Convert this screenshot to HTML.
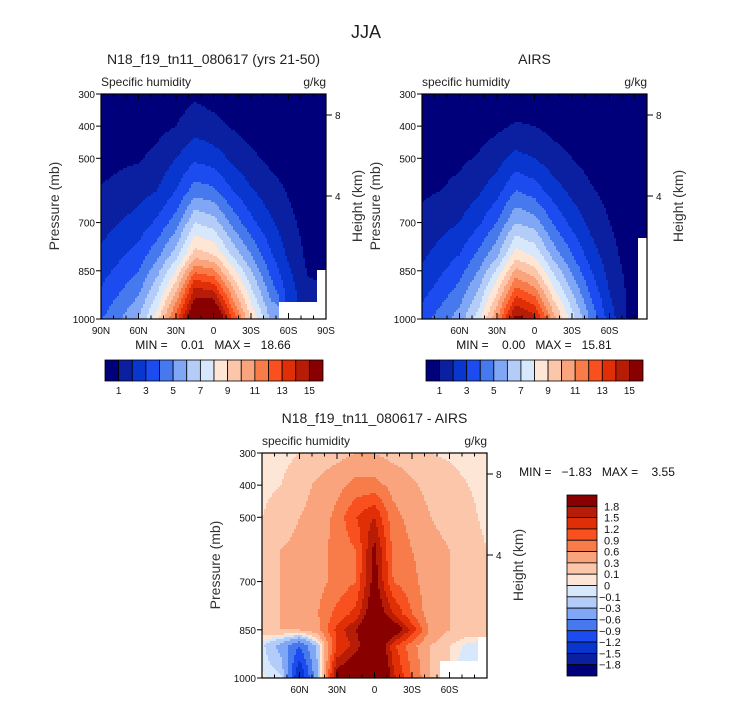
<!DOCTYPE html>
<html><head><meta charset="utf-8">
<style>
body{margin:0;background:#fff;}
svg{display:block;font-family:"Liberation Sans",sans-serif;}
text{white-space:pre;}
</style></head>
<body>
<svg id="fig" width="733" height="702" viewBox="0 0 733 702" xmlns="http://www.w3.org/2000/svg">
<text x="366" y="38" font-size="18" text-anchor="middle" fill="#222">JJA</text>
<g id="p1"></g>
<g id="p2"></g>
<g id="p3"></g>
</svg>
<script>
// Latitude columns (deg, + = N)
const lats = [90,75,60,45,30,15,0,-15,-30,-45,-60,-75,-90];
const levelsQ = [1000,900,800,700,600,500,400,300];
const levelsD = [1000,900,850,800,700,600,500,400,300];
const N = NaN;
const modelQ = [
 [3.9,4.9,6,8.6,12.5,17,17.5,13,9,6,N,N,N],
 [3,3.8,4.6,6.6,9.5,14,13.5,10,7,4.5,2.5,1.1,N],
 [2.2,2.8,3.4,4.7,6.5,9.5,9,6.8,5,3.2,1.8,0.8,0.4],
 [1.6,2,2.4,3.2,4.5,7,6.5,4.7,3.3,2.2,1.3,0.6,0.3],
 [1.05,1.3,1.6,2,3,4.5,4.2,3,2.1,1.4,0.9,0.4,0.2],
 [0.7,0.8,0.9,1.3,2,2.8,2.5,1.8,1.2,0.8,0.6,0.3,0.1],
 [0.4,0.45,0.5,0.7,1,1.6,1.3,0.9,0.6,0.4,0.3,0.2,0.1],
 [0.2,0.22,0.25,0.3,0.5,0.8,0.6,0.4,0.3,0.2,0.15,0.1,0.1]
];
const airsQ = [
 [3.5,4.5,5.5,7.5,11,15.5,14.5,10.5,7.5,4.8,2.5,0.9,N],
 [2.5,3.3,4.2,5.8,8.5,12,11,8,5.7,3.6,1.9,0.8,N],
 [1.8,2.4,3,4.2,5.8,8.5,7.8,5.6,4,2.5,1.4,0.6,N],
 [1.2,1.6,2,2.8,4,6,5.5,3.9,2.7,1.7,1,0.45,0.4],
 [0.85,1,1.3,1.8,2.6,4,3.5,2.5,1.7,1.1,0.7,0.35,0.3],
 [0.5,0.6,0.8,1.1,1.6,2.3,2,1.4,1,0.65,0.4,0.25,0.2],
 [0.3,0.35,0.4,0.55,0.8,1.1,1,0.7,0.5,0.35,0.25,0.15,0.1],
 [0.1,0.12,0.15,0.2,0.3,0.4,0.35,0.25,0.2,0.15,0.1,0.1,0.1]
];
const diffQ = [
 [0.02,-0.05,-1.6,-0.3,2,2.5,3,1.6,0.9,0.3,N,N,N],
 [-0.05,-0.4,-0.9,-0.2,1.2,1.6,2.5,1.3,0.7,0.3,0.1,-0.05,N],
 [0.2,0.3,0.3,0.5,1.3,1.8,2.5,2.2,1.4,0.5,0.3,0.2,0.1],
 [0.2,0.3,0.4,0.6,1.0,1.3,2.2,1.5,0.9,0.4,0.3,0.2,0.1],
 [0.2,0.3,0.4,0.5,0.7,0.9,2.0,0.9,0.7,0.4,0.3,0.2,0.1],
 [0.2,0.3,0.35,0.5,0.7,0.9,1.9,0.8,0.6,0.4,0.3,0.2,0.1],
 [0.1,0.2,0.3,0.4,0.7,1.2,1.5,0.7,0.5,0.3,0.2,0.15,0.05],
 [0.05,0.1,0.2,0.35,0.5,0.7,0.7,0.5,0.35,0.2,0.15,0.1,0.05],
 [0.02,0.05,0.1,0.15,0.2,0.3,0.3,0.2,0.15,0.1,0.08,0.05,0.02]
];
const qBounds = [1,2,3,4,5,6,7,8,9,10,11,12,13,14,15];
const qLabels = ["1","3","5","7","9","11","13","15"];
const dBounds = [-1.8,-1.5,-1.2,-0.9,-0.6,-0.3,-0.1,0,0.1,0.3,0.6,0.9,1.2,1.5,1.8];
const dLabels = ["-1.8","-1.5","-1.2","-0.9","-0.6","-0.3","-0.1","0","0.1","0.3","0.6","0.9","1.2","1.5","1.8"];
const pTicks = [300,400,500,700,850,1000];
const colors = ["#00007a","#0a20a0","#0a36d0","#1c4cf0","#4678ee","#80a6f6","#b4ccf8","#d8e8fc","#fee6d6","#fcc6aa","#f9a47c","#f87b4a","#f8501e","#e02e06","#b61c06","#880000"];
const NS="http://www.w3.org/2000/svg";
function mk(tag,attrs,parent){const e=document.createElementNS(NS,tag);for(const k in attrs)e.setAttribute(k,attrs[k]);parent.appendChild(e);return e;}

function interp(grid,levels,lat,p){
  let fi=(90-lat)/15; let i0=Math.max(0,Math.min(Math.floor(fi),lats.length-2)); let tx=Math.max(0,Math.min(1,fi-i0));
  let j0=0; while(j0<levels.length-2 && p<levels[j0+1]) j0++;
  let ty=(levels[j0]-p)/(levels[j0]-levels[j0+1]); ty=Math.max(0,Math.min(1,ty));
  const ni=tx<0.5?i0:i0+1, nj=ty<0.5?j0:j0+1;
  if(isNaN(grid[nj][ni])) return NaN;
  const g=(j,i)=>{let v=grid[j][i]; if(isNaN(v)) v=grid[nj][ni]; return v;};
  const a=g(j0,i0)*(1-tx)+g(j0,i0+1)*tx, b=g(j0+1,i0)*(1-tx)+g(j0+1,i0+1)*tx;
  return a*(1-ty)+b*ty;
}
function cls(v,bounds){let k=0;while(k<bounds.length&&v>=bounds[k])k++;return k;}

function panel(g,x0,y0,grid,levels,bounds,opts){
  const W=225,H=225;
  const xs=lat=>x0+(90-lat)/180*W;
  const ys=p=>y0+(p-300)/700*H;
  const field=mk('g',{},g);
  
  
  const step=2;
  for(let py=0;py<H;py+=step){
    const p=300+(py+step/2)/H*700;
    let runStart=0,runC=null;
    for(let px=0;;px+=step){
      const end=px>=W;
      let c=null;
      if(!end){const lat=90-(px+step/2)/W*180;const v=interp(grid,levels,lat,p);c=isNaN(v)?'#ffffff':colors[cls(v,bounds)];}
      if(end||c!==runC){
        if(runC!==null){const r=mk('rect',{x:x0+runStart,y:y0+py,width:Math.min(px,W)-runStart+0.5,height:Math.min(step+0.5,H-py),fill:runC},field);
          
          }
        runStart=px;runC=c;
      }
      if(end)break;
    }
  }
  const fr=mk('rect',{x:x0,y:y0,width:W,height:H,fill:'none',stroke:'#000','stroke-width':1.2},g);
  
  
  for(let lat=90;lat>=-90;lat-=10){
    const x=xs(lat), major=lat%30===0;
    mk('line',{x1:x,x2:x,y1:y0,y2:y0+(major?6:3.5),stroke:'#000'},g);
    mk('line',{x1:x,x2:x,y1:y0+H,y2:y0+H-(major?6:3.5),stroke:'#000'},g);
  }
  opts.latLabels.forEach(lat=>{
    const t=mk('text',{x:xs(lat),y:y0+H+15,'font-size':10,'text-anchor':'middle',fill:'#111'},g);
    t.textContent=lat===0?'0':(Math.abs(lat)+(lat>0?'N':'S'));
    
    
  });
  pTicks.forEach(p=>{
    mk('line',{x1:x0,x2:x0-5,y1:ys(p),y2:ys(p),stroke:'#000'},g);
    const t=mk('text',{x:x0-6,y:ys(p)+4,'font-size':10,'text-anchor':'end',fill:'#111'},g);
    t.textContent=p;
    
    
  });
  [[8,21],[4,102]].forEach(([h,dy])=>{
    mk('line',{x1:x0+W,x2:x0+W+6,y1:y0+dy,y2:y0+dy,stroke:'#000'},g);
    const t=mk('text',{x:x0+W+9,y:y0+dy+4,'font-size':10,fill:'#111'},g);t.textContent=h;
    
    
  });
  const yt=mk('text',{x:0,y:0,'font-size':14,'text-anchor':'middle',fill:'#333',transform:`translate(${x0-42},${y0+112}) rotate(-90)`},g);
  yt.textContent='Pressure (mb)';
  
  
  const ht=mk('text',{x:0,y:0,'font-size':14,'text-anchor':'middle',fill:'#333',transform:`translate(${x0+W+36},${y0+112}) rotate(-90)`},g);
  ht.textContent='Height (km)';
  
  
  const tt=mk('text',{x:x0+W/2,y:y0-30,'font-size':14,'text-anchor':'middle',fill:'#222'},g);
  tt.textContent=opts.title;
  
  
  const lt=mk('text',{x:x0,y:y0-8,'font-size':12,fill:'#222'},g);lt.textContent=opts.left;
  
  
  const rt=mk('text',{x:x0+W,y:y0-8,'font-size':12,'text-anchor':'end',fill:'#222'},g);rt.textContent='g/kg';
  
  
}
function hbar(g,x0,y0,w,h){
  const n=colors.length,bw=w/n;
  colors.forEach((c,i)=>{const r=mk('rect',{x:x0+i*bw,y:y0,width:bw,height:h,fill:c,stroke:'#000','stroke-width':0.8},g);
    
    });
  qBounds.forEach((b,i)=>{ if(i%2===0){const t=mk('text',{x:x0+(i+1)*bw,y:y0+h+13,'font-size':10,'text-anchor':'middle',fill:'#111'},g);
    t.textContent=qLabels[i/2];
    
    }});
}
function minmax(g,x,y,s){const t=mk('text',{x:x,y:y,'font-size':12,'text-anchor':'middle',fill:'#111'},g);t.textContent=s;
  
  }

const p1=document.getElementById('p1'),p2=document.getElementById('p2'),p3=document.getElementById('p3');
panel(p1,101,94,modelQ,levelsQ,qBounds,{title:'N18_f19_tn11_080617 (yrs 21-50)',left:'Specific humidity',latLabels:[90,60,30,0,-30,-60,-90]});
minmax(p1,213,349,'MIN =    0.01   MAX =   18.66');
hbar(p1,105,360,218,21);
panel(p2,422,94,airsQ,levelsQ,qBounds,{title:'AIRS',left:'specific humidity',latLabels:[60,30,0,-30,-60]});
minmax(p2,534,349,'MIN =    0.00   MAX =   15.81');
hbar(p2,426,360,217,21);
panel(p3,262,453,diffQ,levelsD,dBounds,{title:'N18_f19_tn11_080617 - AIRS',left:'specific humidity',latLabels:[60,30,0,-30,-60]});
minmax(p3,597,476,'MIN =   \u22121.83   MAX =    3.55');
(function(){const x0=567,y0=495,w=30,h=181,n=colors.length,bh=h/n;
  for(let i=0;i<n;i++){const r=mk('rect',{x:x0,y:y0+i*bh,width:w,height:bh,fill:colors[n-1-i],stroke:'#000','stroke-width':0.8},p3);
    
    }
  for(let i=0;i<dBounds.length;i++){const lbl=dLabels[dBounds.length-1-i];
    const t=mk('text',{x:lbl.startsWith('-')?x0+w+2:x0+w+7,y:y0+(i+1)*bh+4,'font-size':11,fill:'#111'},p3);
    t.textContent=lbl.replace('-','\u2212');
    
    }
})();
</script>
</body></html>
